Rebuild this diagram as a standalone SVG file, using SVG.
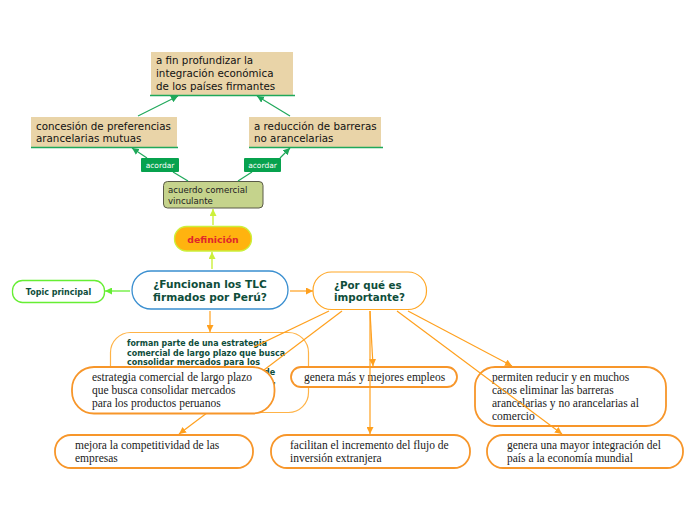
<svg xmlns="http://www.w3.org/2000/svg" width="696" height="520" viewBox="0 0 696 520">
<style>
.sans{font-family:"DejaVu Sans","Liberation Sans",sans-serif}
.serif{font-family:"Liberation Serif","DejaVu Serif",serif;font-size:11.5px;fill:#1a1a1a}
.tan{fill:#E9D4A8}
.tantext{font-family:"DejaVu Sans","Liberation Sans",sans-serif;font-size:10.3px;fill:#111}
.uline{stroke:#1FA85A;stroke-width:1.5}
.bold{font-weight:bold;fill:#0E4D3A}
.onode{fill:#fff;stroke:#F7962A;stroke-width:1.8}
.oc{stroke:#FFA01E;stroke-width:1.2;fill:none}
.gc{stroke:#1FA85A;stroke-width:1.2;fill:none}
.yc{stroke:#CCF03A;stroke-width:1.4;fill:none}
.lab{fill:#07A24E}
.labt{font-family:"DejaVu Sans","Liberation Sans",sans-serif;font-size:7.5px;fill:#fff}
</style>
<defs>
<marker id="ao" viewBox="0 0 10 10" refX="10" refY="5" markerWidth="7" markerHeight="7" markerUnits="userSpaceOnUse" orient="auto"><path d="M0,0L10,5L0,10z" fill="#FFA01E"/></marker>
<marker id="ag" viewBox="0 0 10 10" refX="10" refY="5" markerWidth="7" markerHeight="7" markerUnits="userSpaceOnUse" orient="auto"><path d="M0,0L10,5L0,10z" fill="#1FA85A"/></marker>
<marker id="ay" viewBox="0 0 10 10" refX="10" refY="5" markerWidth="7" markerHeight="7" markerUnits="userSpaceOnUse" orient="auto"><path d="M0,0L10,5L0,10z" fill="#CCF03A"/></marker>
<marker id="al" viewBox="0 0 10 10" refX="10" refY="5" markerWidth="7" markerHeight="7" markerUnits="userSpaceOnUse" orient="auto"><path d="M0,0L10,5L0,10z" fill="#66EE33"/></marker>
</defs>
<rect width="696" height="520" fill="#fff"/>

<g id="n-fin">
<rect class="tan" x="151" y="52" width="142" height="43"/>
<line class="uline" x1="150" y1="95.5" x2="295" y2="95.5"/>
<text class="tantext" x="156"><tspan x="156" y="64">a fin profundizar la</tspan><tspan x="156" y="77">integración económica</tspan><tspan x="156" y="89.5">de los países firmantes</tspan></text>
</g>
<g id="n-concesion">
<rect class="tan" x="31" y="117" width="146" height="30"/>
<line class="uline" x1="31" y1="147.5" x2="178" y2="147.5"/>
<text class="tantext"><tspan x="36" y="130">concesión de preferencias</tspan><tspan x="36" y="142">arancelarias mutuas</tspan></text>
</g>
<g id="n-reduccion">
<rect class="tan" x="249" y="117" width="132" height="30"/>
<line class="uline" x1="249" y1="147.5" x2="383" y2="147.5"/>
<text class="tantext"><tspan x="254" y="130">a reducción de barreras</tspan><tspan x="254" y="142">no arancelarias</tspan></text>
</g>
<g id="n-acuerdo">
<rect x="163.5" y="181.5" width="99.5" height="26.5" rx="4" fill="#C5D38C" stroke="#5A5A48" stroke-width="1"/>
<text class="sans" font-size="8.6" fill="#222"><tspan x="168" y="193">acuerdo comercial</tspan><tspan x="168" y="204">vinculante</tspan></text>
</g>
<g id="n-definicion">
<rect x="174.5" y="226.5" width="77" height="24.5" rx="12" fill="#FFB30F" stroke="#CCF03A" stroke-width="1.3"/>
<text class="sans" x="213" y="242.5" font-size="9.3" font-weight="bold" fill="#E0262B" text-anchor="middle">definición</text>
</g>
<g id="n-main">
<rect x="132" y="271" width="156" height="38" rx="19" fill="#fff" stroke="#3A8FD0" stroke-width="1.3"/>
<text class="sans bold" font-size="10.6" text-anchor="middle"><tspan x="210" y="288">¿Funcionan los TLC</tspan><tspan x="210" y="300.5">firmados por Perú?</tspan></text>
</g>
<g id="n-topic">
<rect x="12.5" y="280.5" width="92" height="22" rx="10" fill="#fff" stroke="#66EE33" stroke-width="1.3"/>
<text class="sans bold" x="58.5" y="295" font-size="8" text-anchor="middle">Topic principal</text>
</g>
<g id="n-porque">
<rect x="313" y="272" width="113.5" height="37.5" rx="18.5" fill="#fff" stroke="#FFA726" stroke-width="1.2"/>
<text class="sans bold" font-size="10.3"><tspan x="334" y="289">¿Por qué es</tspan><tspan x="334" y="301">importante?</tspan></text>
</g>
<g id="n-forman">
<rect x="110.5" y="332.5" width="198" height="80" rx="20" fill="none" stroke="#FFB347" stroke-width="1.2"/>
<text class="sans bold" font-size="8.1"><tspan x="127" y="346" textLength="140" lengthAdjust="spacingAndGlyphs">forman parte de una estrategia</tspan><tspan x="127" y="355.5" textLength="158" lengthAdjust="spacingAndGlyphs">comercial de largo plazo que busca</tspan><tspan x="127" y="365" textLength="133" lengthAdjust="spacingAndGlyphs">consolidar mercados para los</tspan><tspan x="264" y="374.5">de</tspan><tspan x="268" y="384">s,</tspan></text>
</g>
<g id="n-empleos">
<rect class="onode" x="291" y="367" width="166" height="20" rx="10"/>
<text class="serif" x="304" y="381">genera más y mejores empleos</text>
</g>
<g id="n-permiten">
<rect class="onode" x="475" y="367" width="191" height="59" rx="20"/>
<text class="serif"><tspan x="492" y="381">permiten reducir y en muchos</tspan><tspan x="492" y="394">casos eliminar las barreras</tspan><tspan x="492" y="407">arancelarias y no arancelarias al</tspan><tspan x="492" y="420">comercio</tspan></text>
</g>
<g id="n-mejora">
<rect class="onode" x="55" y="435" width="198" height="33" rx="16"/>
<text class="serif"><tspan x="75" y="449">mejora la competitividad de las</tspan><tspan x="75" y="462">empresas</tspan></text>
</g>
<g id="n-facilitan">
<rect class="onode" x="271" y="435" width="199" height="33" rx="16"/>
<text class="serif"><tspan x="290" y="449">facilitan el incremento del flujo de</tspan><tspan x="290" y="462">inversión extranjera</tspan></text>
</g>
<g id="n-mayor">
<rect class="onode" x="487" y="435" width="196" height="33" rx="16"/>
<text class="serif"><tspan x="507" y="449">genera una mayor integración del</tspan><tspan x="507" y="462">país a la economía mundial</tspan></text>
</g>

<g id="connectors">
<line class="gc" x1="138" y1="116" x2="178" y2="96" marker-end="url(#ag)"/>
<line class="gc" x1="290" y1="116" x2="257" y2="96" marker-end="url(#ag)"/>
<line class="gc" x1="188" y1="181" x2="173" y2="172"/>
<line class="gc" x1="147" y1="158" x2="132" y2="148" marker-end="url(#ag)"/>
<line class="gc" x1="238" y1="181" x2="252" y2="172"/>
<line class="gc" x1="280" y1="158" x2="290" y2="148" marker-end="url(#ag)"/>
<g id="lab1"><rect class="lab" x="141" y="158" width="38" height="14" rx="1"/><text class="labt" x="160" y="167.5" text-anchor="middle">acordar</text></g>
<g id="lab2"><rect class="lab" x="244" y="158" width="37" height="14" rx="1"/><text class="labt" x="262.5" y="167.5" text-anchor="middle">acordar</text></g>
<line class="yc" x1="213" y1="225" x2="213" y2="209" marker-end="url(#ay)"/>
<line class="yc" x1="212" y1="269" x2="212" y2="252" marker-end="url(#ay)"/>
<line x1="130" y1="291" x2="105" y2="291" stroke="#66EE33" stroke-width="1.3" marker-end="url(#al)"/>
<line class="oc" x1="290" y1="291" x2="313" y2="291" marker-end="url(#ao)"/>
<line class="oc" x1="210" y1="311" x2="210" y2="332" marker-end="url(#ao)"/>
<line class="oc" x1="329" y1="311" x2="254" y2="347"/>
<line class="oc" x1="342" y1="311" x2="179" y2="434" marker-end="url(#ao)"/>
<line class="oc" x1="370" y1="311" x2="373" y2="366" marker-end="url(#ao)"/>
<line class="oc" x1="370" y1="311" x2="370" y2="434" marker-end="url(#ao)"/>
<line class="oc" x1="408" y1="311" x2="512" y2="366" marker-end="url(#ao)"/>
<line class="oc" x1="397" y1="311" x2="562" y2="434" marker-end="url(#ao)"/>
</g>

<g id="n-estrategia">
<rect class="onode" x="72" y="367" width="202.5" height="46.5" rx="22"/>
<text class="serif"><tspan x="92" y="381">estrategia comercial de largo plazo</tspan><tspan x="92" y="394">que busca consolidar mercados</tspan><tspan x="92" y="407">para los productos peruanos</tspan></text>
</g>
</svg>
